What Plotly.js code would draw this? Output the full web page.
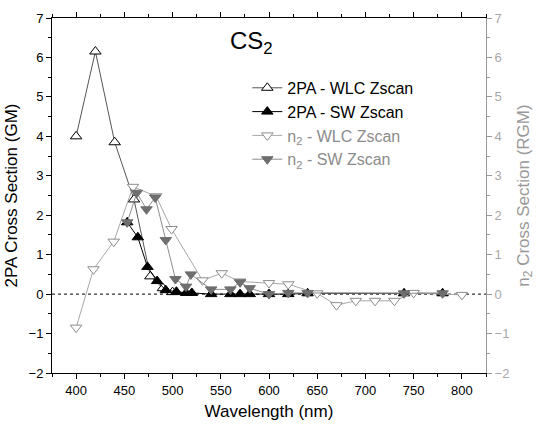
<!DOCTYPE html>
<html>
<head>
<meta charset="utf-8">
<script src="https://cdn.plot.ly/plotly-3.0.1.min.js"></script>
<style>
  html, body { margin: 0; padding: 0; background: #fff; }
  #chart { width: 542px; height: 425px; }
</style>
</head>
<body>
<div id="chart"></div>
<script>
// Two-photon absorption (GM) and nonlinear refraction n2 (RGM) spectra of CS2
const wl2paWLC = [400, 420, 440, 460, 477, 490, 500];
const gm2paWLC = [4.0, 6.15, 3.85, 2.4, 0.45, 0.15, 0.05];

const wl2paSW = [453, 464, 474, 484, 493, 504, 514, 520, 540, 560, 570, 580, 600, 620, 640, 740, 780];
const gm2paSW = [1.82, 1.44, 0.69, 0.33, 0.1, 0.06, 0.03, 0.03, 0.0, 0.0, 0.0, 0.0, 0.0, 0.0, 0.02, 0.02, 0.02];

const wlN2WLC = [400, 418, 439, 459, 483, 499, 531, 551, 570, 600, 620, 650, 670, 690, 710, 730, 750, 800];
const rgmN2WLC = [-0.85, 0.63, 1.33, 2.72, 2.48, 1.65, 0.35, 0.53, 0.32, 0.28, 0.25, 0.02, -0.28, -0.17, -0.17, -0.17, 0.03, -0.02];

const wlN2SW = [453, 463, 473, 482, 493, 503, 514, 519, 540, 560, 570, 580, 600, 620, 640, 740, 780];
const rgmN2SW = [1.82, 2.57, 2.15, 2.45, 1.37, 0.38, 0.19, 0.5, 0.12, 0.12, 0.3, 0.15, 0.0, 0.03, 0.03, 0.02, 0.02];

const seriesNames = [
  '2PA - WLC Zscan',
  '2PA - SW Zscan',
  '<span style="color:#8c8c8c">n<sub>2</sub> - WLC Zscan</span>',
  '<span style="color:#8c8c8c">n<sub>2</sub> - SW Zscan</span>'
];

const FONT = 'Liberation Sans, Arial, sans-serif';

const traces = [
  {
    x: wl2paWLC, y: gm2paWLC, name: seriesNames[0], type: 'scatter', mode: 'lines+markers',
    line: { color: '#555555', width: 1 },
    marker: { symbol: 'triangle-up', size: 10, color: '#ffffff', line: { color: '#000000', width: 1 } }
  },
  {
    x: wl2paSW, y: gm2paSW, name: seriesNames[1], type: 'scatter', mode: 'lines+markers',
    line: { color: '#000000', width: 1 },
    marker: { symbol: 'triangle-up', size: 10, color: '#000000', line: { color: '#000000', width: 1 } }
  },
  {
    x: wlN2WLC, y: rgmN2WLC, name: seriesNames[2], type: 'scatter', mode: 'lines+markers',
    yaxis: 'y2',
    line: { color: '#a8a8a8', width: 1 },
    marker: { symbol: 'triangle-down', size: 10, color: '#ffffff', line: { color: '#8c8c8c', width: 1 } }
  },
  {
    x: wlN2SW, y: rgmN2SW, name: seriesNames[3], type: 'scatter', mode: 'lines+markers',
    yaxis: 'y2',
    line: { color: '#8c8c8c', width: 1 },
    marker: { symbol: 'triangle-down', size: 10, color: '#6e6e6e', line: { color: '#6e6e6e', width: 1 } }
  }
];

const layout = {
  width: 542, height: 425,
  margin: { l: 52, r: 56, t: 18, b: 52 },
  paper_bgcolor: '#ffffff', plot_bgcolor: '#ffffff',
  font: { family: FONT, color: '#000000', size: 13 },
  showlegend: true,
  legend: {
    x: 0.45, y: 0.851, xanchor: 'left', yanchor: 'top',
    bgcolor: 'rgba(0,0,0,0)', borderwidth: 0,
    font: { family: FONT, size: 16, color: '#000000' },
    tracegroupgap: 0
  },
  xaxis: {
    range: [375, 825], tick0: 400, dtick: 50,
    ticks: 'outside', ticklen: 5, tickwidth: 1, tickcolor: '#000',
    minor: { dtick: 25, ticks: 'outside', ticklen: 3, tickcolor: '#000' },
    showline: true, linecolor: '#000', linewidth: 1, mirror: 'ticks',
    showgrid: false, zeroline: false,
    tickfont: { family: FONT, size: 13, color: '#000' },
    title: { text: 'Wavelength (nm)', font: { family: FONT, size: 17, color: '#000' }, standoff: 8 }
  },
  yaxis: {
    range: [-2, 7], dtick: 1,
    ticks: 'outside', ticklen: 5, tickwidth: 1, tickcolor: '#000',
    minor: { dtick: 0.5, ticks: 'outside', ticklen: 3, tickcolor: '#000' },
    showline: true, linecolor: '#000', linewidth: 1,
    showgrid: false, zeroline: false,
    tickfont: { family: FONT, size: 13, color: '#000' },
    title: { text: '2PA Cross Section (GM)', font: { family: FONT, size: 17, color: '#000' }, standoff: 6 }
  },
  yaxis2: {
    range: [-2, 7], dtick: 1, overlaying: 'y', side: 'right',
    ticks: 'outside', ticklen: 5, tickwidth: 1, tickcolor: '#999',
    minor: { dtick: 0.5, ticks: 'outside', ticklen: 3, tickcolor: '#999' },
    showline: true, linecolor: '#999', linewidth: 1,
    showgrid: false, zeroline: false,
    tickfont: { family: FONT, size: 13, color: '#a8a8a8' },
    title: { text: 'n<sub>2</sub> Cross Section (RGM)', font: { family: FONT, size: 17, color: '#999' }, standoff: 8 }
  },
  shapes: [
    { type: 'line', xref: 'paper', x0: 0, x1: 1, yref: 'y', y0: 0, y1: 0,
      line: { color: '#000', width: 1, dash: 'dot' }, layer: 'below' }
  ],
  annotations: [
    { text: 'CS<sub>2</sub>', xref: 'x', yref: 'y', x: 557, y: 6.37, showarrow: false,
      xanchor: 'left', yanchor: 'middle', font: { family: FONT, size: 24, color: '#000' } }
  ]
};

Plotly.newPlot('chart', traces, layout, { displayModeBar: false, staticPlot: true });
</script>
</body>
</html>
